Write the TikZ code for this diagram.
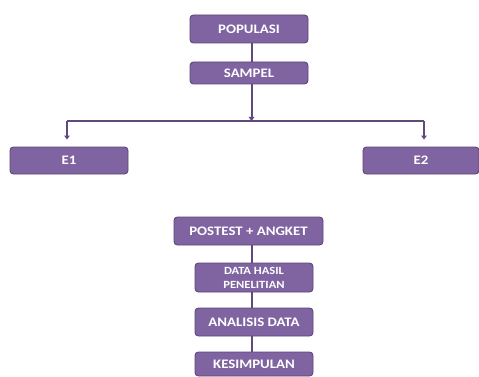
\documentclass[tikz,border=0pt]{standalone}
\usepackage{fontspec}
\setmainfont{Carlito}[FakeStretch=1.14]
\usetikzlibrary{arrows.meta}
\definecolor{boxfill}{RGB}{128,100,162}
\definecolor{boxline}{RGB}{92,71,118}
\definecolor{conn}{RGB}{96,74,123}
\tikzset{
  pbox/.style={draw=boxline, line width=0.9pt, fill=boxfill, rounded corners=3.5pt,
    text=white, font=\fontsize{13}{14}\selectfont\bfseries, inner sep=0pt, align=center},
  conline/.style={draw=conn, line width=2pt},
  hline/.style={draw=conn, line width=1.5pt},
  tip/.style={-{Triangle[length=4pt,width=5.5pt]}}
}
\begin{document}
\begin{tikzpicture}[x=1pt,y=-1pt]
\useasboundingbox (0,0) rectangle (479,377);
\node[pbox, minimum width=118pt, minimum height=28pt] (pop) at (249,29) {POPULASI};
\node[pbox, minimum width=118pt, minimum height=22pt] (sam) at (249,73) {SAMPEL};
\node[pbox, minimum width=118pt, minimum height=27pt] (e1) at (69,160.5) {E1};
\node[pbox, minimum width=116pt, minimum height=27pt] (e2) at (421,160.5) {E2};
\node[pbox, minimum width=149pt, minimum height=28pt] (post) at (248.5,231) {POSTEST + ANGKET};
\node[pbox, minimum width=118pt, minimum height=29pt, font=\fontsize{11}{14}\selectfont\bfseries] (data) at (254,277.5) {DATA HASIL\\PENELITIAN};
\node[pbox, minimum width=118pt, minimum height=28pt] (ana) at (254,322) {ANALISIS DATA};
\node[pbox, minimum width=118pt, minimum height=24pt] (kes) at (254,364) {KESIMPULAN};
\coordinate (j) at (251.5,121);
\coordinate (jl) at (67,121);
\coordinate (jr) at (424,121);
\coordinate (xb) at (252,0);
\draw[conline] (pop.south -| j) -- (sam.north -| j);
\draw[conline, tip] (sam.south -| j) -- (j);
\draw[hline] (jl) -- (jr);
\draw[conline, tip, shorten >=7pt] (jl) -- (jl |- e1.north);
\draw[conline, tip, shorten >=7pt] (jr) -- (jr |- e2.north);
\draw[conline] (post.south -| xb) -- (data.north -| xb);
\draw[conline] (data.south -| xb) -- (ana.north -| xb);
\draw[conline] (ana.south -| xb) -- (kes.north -| xb);
\end{tikzpicture}
\end{document}
